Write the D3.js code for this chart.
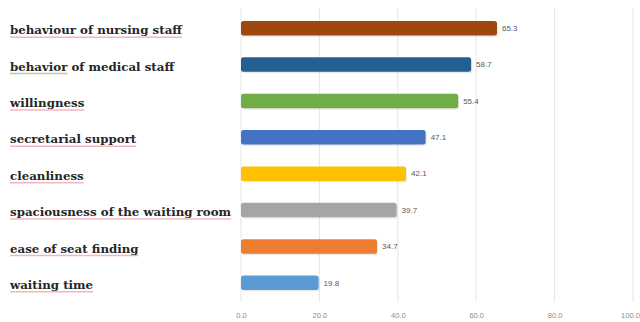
<!DOCTYPE html>
<html><head><meta charset="utf-8">
<script src="https://cdn.jsdelivr.net/npm/d3@7"></script>
<style>body{margin:0;background:#fff}svg{display:block}</style>
</head><body>
<svg id="c" width="640" height="322"></svg>
<script>
const categories = ["behaviour of nursing staff","behavior of medical staff","willingness","secretarial support","cleanliness","spaciousness of the waiting room","ease of seat finding","waiting time"];
const values = [65.3, 58.7, 55.4, 47.1, 42.1, 39.7, 34.7, 19.8];
const colors = ["#9E480E","#255E91","#70AD47","#4472C4","#FFC000","#A5A5A5","#ED7D31","#5B9BD5"];
const tickValues = [0, 20, 40, 60, 80, 100];
const underlineColors = ["#f4b6be","#a8d5a8","#f4b6be","#f4b6be","#f4b6be","#f4b6be","#f4b6be","#f4b6be"];

const svg = d3.select("#c");
const x = d3.scaleLinear().domain([0,100]).range([241,633]);
const y = d3.scaleBand().domain(categories).range([10,301]).paddingInner(0.6).paddingOuter(0.3);

// grid
svg.append("g").selectAll("line").data(tickValues).join("line")
  .attr("x1", d=>x(d)).attr("x2", d=>x(d)).attr("y1", 8).attr("y2", 302)
  .attr("stroke", "#e6e6e6").attr("stroke-width", 1);

// axis labels
const ax = svg.append("g").attr("transform","translate(0,313)")
  .call(d3.axisBottom(x).tickValues(tickValues).tickFormat(d3.format(".1f")).tickSize(0));
ax.select(".domain").remove();
ax.selectAll("text").attr("fill","#8c8c8c").attr("font-family","Liberation Sans, Arial").attr("font-size","7.5px").attr("dy","0.3em")
  .attr("dx", d=> d===100 ? -3 : 0);

// bar shadows
svg.append("g").selectAll("rect").data(categories).join("rect")
  .attr("x", x(0)+1).attr("y", d=>y(d)+1.5)
  .attr("width", (d,i)=>x(values[i])-x(0)).attr("height", y.bandwidth())
  .attr("rx", 2.5).attr("fill", "#000").attr("opacity", 0.08);

// bars
svg.append("g").selectAll("rect").data(categories).join("rect")
  .attr("x", x(0)).attr("y", d=>y(d))
  .attr("width", (d,i)=>x(values[i])-x(0)).attr("height", y.bandwidth())
  .attr("rx", 2.5).attr("fill", (d,i)=>colors[i]);

// value labels
svg.append("g").selectAll("text").data(categories).join("text")
  .attr("x", (d,i)=>x(values[i])+5).attr("y", d=>y(d)+y.bandwidth()/2)
  .attr("dy","0.35em").attr("fill","#595959")
  .attr("font-family","Liberation Sans, Arial").attr("font-size","8px")
  .text((d,i)=>values[i].toFixed(1));

// category labels
const lab = svg.append("g");
categories.forEach((c,i)=>{
  const cy = y(c)+y.bandwidth()/2;
  const t = lab.append("text").attr("x",10).attr("y",cy+2).attr("dy","0.35em")
    .attr("font-family","DejaVu Serif, serif").attr("font-weight","bold")
    .attr("font-size","11.8px").attr("fill","#262626").text(c);
  const w = t.node().getComputedTextLength();
  const uw = i===1 ? t.node().getSubStringLength(0,8) : w;
  lab.insert("line","text").attr("x1",10).attr("x2",10+uw).attr("y1",cy+9).attr("y2",cy+9)
    .attr("stroke",underlineColors[i]).attr("stroke-width",1.5);
});
</script>
</body></html>
